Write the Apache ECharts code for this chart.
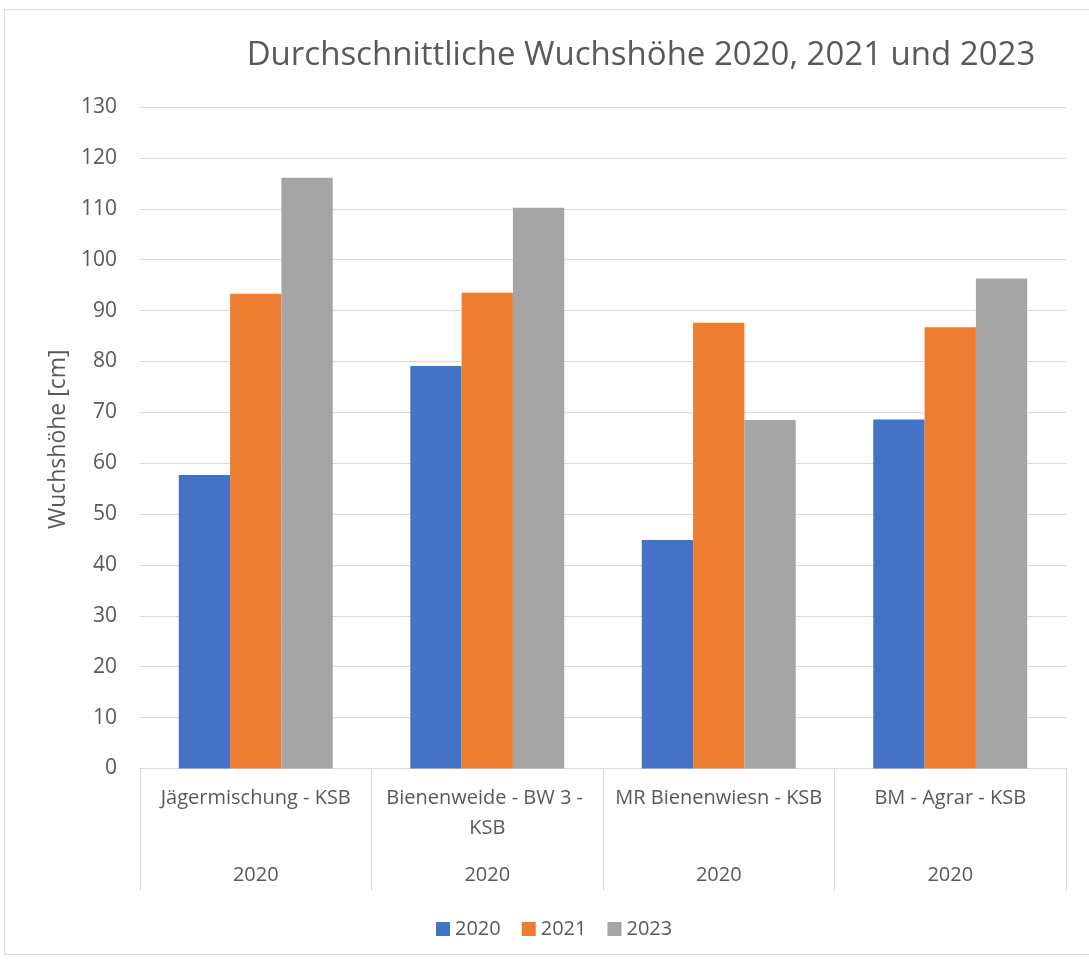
<!DOCTYPE html>
<html>
<head>
<meta charset="utf-8">
<script src="https://cdn.jsdelivr.net/npm/echarts@6/dist/echarts.min.js"></script>
<style>
  html, body { margin: 0; padding: 0; background: #fff; }
  #chart { width: 1089px; height: 960px; }
</style>
</head>
<body>
<div id="chart"></div>
<script>
// Mixtures (first axis level) and their year group (second level)
const categories = ['Jägermischung - KSB', 'Bienenweide - BW 3 - KSB', 'MR Bienenwiesn - KSB', 'BM - Agrar - KSB'];
const groupYears = ['2020', '2020', '2020', '2020'];

// Average growth height in cm per survey year
const seriesNames = ['2020', '2021', '2023'];
const height2020 = [57.7, 79.1, 44.9, 68.6];
const height2021 = [93.3, 93.5, 87.6, 86.7];
const height2023 = [116.1, 110.2, 68.5, 96.3];

const yTicks = { min: 0, max: 130, interval: 10 };

const FONT = '"Open Sans", sans-serif';
const TEXT = '#595959';
const LINE = '#d9d9d9';
const colors = ['#4472C4', '#ED7D31', '#A5A5A5'];

const chart = echarts.init(document.getElementById('chart'), null, { renderer: 'canvas' });

const mkBar = (name, data, color) => ({
  name: name,
  type: 'bar',
  data: data,
  barGap: '0%',
  barCategoryGap: '33.5%',
  itemStyle: { color: color },
  emphasis: { disabled: true }
});

chart.setOption({
  animation: false,
  textStyle: { fontFamily: FONT, color: TEXT },
  title: {
    text: 'Durchschnittliche Wuchshöhe 2020, 2021 und 2023',
    left: 636,
    top: 34,
    textAlign: 'center',
    textStyle: { fontFamily: FONT, fontSize: 33, fontWeight: 'normal', color: TEXT }
  },
  legend: {
    data: seriesNames,
    top: 914,
    left: 431,
    itemWidth: 14,
    itemHeight: 14,
    itemGap: 21,
    icon: 'rect',
    textStyle: { fontFamily: FONT, fontSize: 20, color: TEXT }
  },
  grid: { left: 140, right: 23, top: 107, bottom: 191.5, containLabel: false },
  xAxis: [
    {
      type: 'category',
      data: categories,
      axisLine: { show: true, lineStyle: { color: LINE, width: 1 } },
      axisTick: { show: true, length: 122, lineStyle: { color: LINE, width: 1 } },
      axisLabel: {
        interval: 0,
        margin: 15,
        width: 226,
        overflow: 'break',
        fontFamily: FONT,
        fontSize: 20,
        lineHeight: 30,
        color: TEXT
      }
    },
    {
      type: 'category',
      position: 'bottom',
      offset: 92,
      data: groupYears,
      axisLine: { show: false },
      axisTick: { show: false },
      axisLabel: {
        interval: 0,
        margin: 0,
        fontFamily: FONT,
        fontSize: 20,
        lineHeight: 30,
        color: TEXT
      }
    }
  ],
  yAxis: {
    type: 'value',
    min: yTicks.min,
    max: yTicks.max,
    interval: yTicks.interval,
    name: 'Wuchshöhe [cm]',
    nameLocation: 'middle',
    nameGap: 69,
    nameRotate: 90,
    nameTextStyle: { fontFamily: FONT, fontSize: 23, color: TEXT, padding: [0, 3, 0, 0] },
    axisLine: { show: false },
    axisTick: { show: false },
    axisLabel: { margin: 23, fontFamily: FONT, fontSize: 21, color: TEXT },
    splitLine: { lineStyle: { color: LINE, width: 1 } }
  },
  series: [
    mkBar(seriesNames[0], height2020, colors[0]),
    mkBar(seriesNames[1], height2021, colors[1]),
    mkBar(seriesNames[2], height2023, colors[2])
  ],
  graphic: [
    {
      type: 'rect',
      shape: { x: 4.5, y: 9.5, width: 1100, height: 945 },
      style: { fill: 'none', stroke: '#d9d9d9', lineWidth: 1 },
      silent: true,
      z: -1
    }
  ]
});
</script>
</body>
</html>
